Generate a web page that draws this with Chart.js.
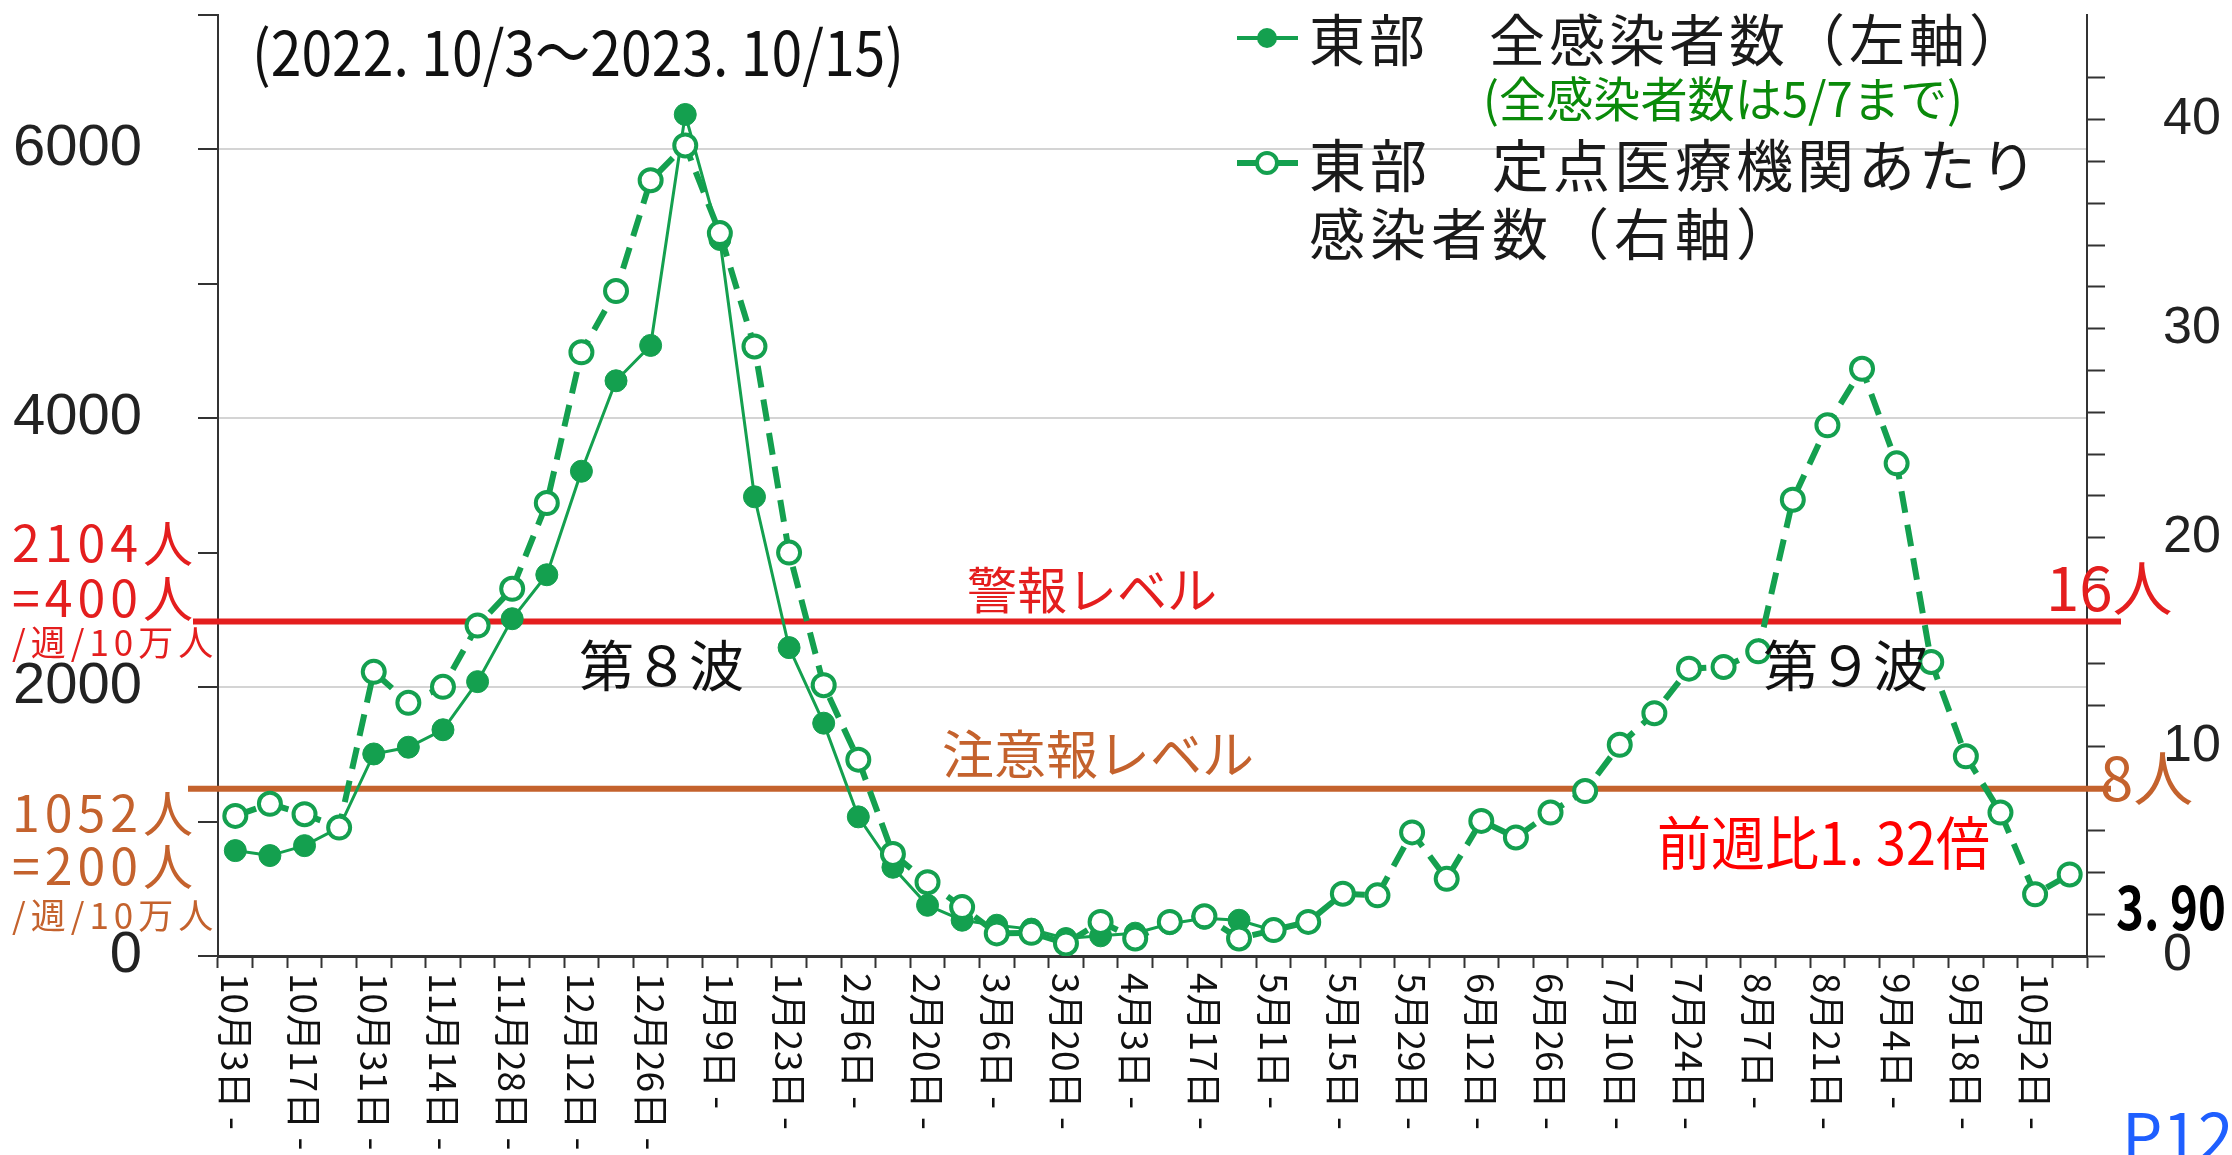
<!DOCTYPE html>
<html lang="ja">
<head>
<meta charset="utf-8">
<title>東部 感染者数の推移</title>
<script src="https://cdn.jsdelivr.net/npm/chart.js@4.4.1/dist/chart.umd.min.js"></script>
<style>
  html, body { margin: 0; padding: 0; background: #fff; }
  #wrap { width: 2232px; height: 1155px; }
</style>
</head>
<body>
<div id="wrap"><canvas id="chart" width="2232" height="1155"></canvas></div>
<script>
// weekly categories, 2022/10/3 .. 2023/10/9
const weeks = [
  "10月3日", "10月10日", "10月17日", "10月24日", "10月31日", "11月7日", "11月14日", "11月21日",
  "11月28日", "12月5日", "12月12日", "12月19日", "12月26日", "1月2日", "1月9日", "1月16日",
  "1月23日", "1月30日", "2月6日", "2月13日", "2月20日", "2月27日", "3月6日", "3月13日",
  "3月20日", "3月27日", "4月3日", "4月10日", "4月17日", "4月24日", "5月1日", "5月8日",
  "5月15日", "5月22日", "5月29日", "6月5日", "6月12日", "6月19日", "6月26日", "7月3日",
  "7月10日", "7月17日", "7月24日", "7月31日", "8月7日", "8月14日", "8月21日", "8月28日",
  "9月4日", "9月11日", "9月18日", "9月25日", "10月2日", "10月9日"
];

// 東部 全感染者数 (left axis) - reported until 5/7
const totalCases = [
  784, 747, 821, 955, 1503, 1553, 1683, 2041, 2509, 2836, 3606, 4279, 4542, 6260, 5330, 3416,
  2294, 1732, 1035, 660, 377, 266, 229, 200, 130, 150, 170, 240, 280, 266, 190,
  null, null, null, null, null, null, null, null, null, null, null, null, null, null, null,
  null, null, null, null, null, null, null, null
];

// 東部 定点医療機関あたり感染者数 (right axis)
const perSiteCases = [
  6.70, 7.28, 6.78, 6.14, 13.59, 12.11, 12.87, 15.80, 17.56, 21.66, 28.87, 31.80, 37.10, 38.76, 34.57, 29.15,
  19.29, 12.95, 9.39, 4.88, 3.53, 2.34, 1.08, 1.11, 0.60, 1.63, 0.84, 1.63, 1.90, 0.84, 1.24, 1.63,
  2.98, 2.90, 5.91, 3.69, 6.46, 5.67, 6.86, 7.89, 10.10, 11.61, 13.74, 13.82, 14.57, 21.82, 25.38, 28.08,
  23.56, 14.06, 9.55, 6.86, 2.95, 3.90
];

const seriesNames = ["東部　全感染者数（左軸）", "東部　定点医療機関あたり感染者数（右軸）"];
const leftTicks = [0, 2000, 4000, 6000];
const rightTicks = [0, 10, 20, 30, 40];
const levelValues = [16, 8];   // 警報レベル, 注意報レベル (right axis)

const GREEN = "#14a04f";
const RED = "#e41e1e";
const ORANGE = "#c4622d";
const JP = '"Noto Sans CJK JP", "Noto Sans", sans-serif';
const NUM = '"Liberation Sans", Arial, sans-serif';

function txt(ctx, s, x, y, font, color, o = {}) {
  ctx.save();
  ctx.font = font;
  ctx.fillStyle = color;
  ctx.textAlign = o.align || "left";
  ctx.textBaseline = o.baseline || "middle";
  if (o.spacing) ctx.letterSpacing = o.spacing + "px";
  if (o.maxWidth) ctx.fillText(s, x, y, o.maxWidth);
  else ctx.fillText(s, x, y);
  ctx.restore();
}

const overlay = {
  id: "overlay",
  beforeDatasetsDraw(chart) {
    const ctx = chart.ctx;
    const y2 = chart.scales.y2;
    const ends = [[193, 2121, RED], [188, 2111, ORANGE]];
    levelValues.forEach((v, i) => {
      const y = y2.getPixelForValue(v);
      ctx.save();
      ctx.strokeStyle = ends[i][2];
      ctx.lineWidth = 6;
      ctx.beginPath();
      ctx.moveTo(ends[i][0], y);
      ctx.lineTo(ends[i][1], y);
      ctx.stroke();
      ctx.restore();
    });
  },
  afterDraw(chart) {
    const ctx = chart.ctx;
    const xs = chart.scales.x;

    // rotated week labels, every second week
    weeks.forEach((w, i) => {
      if (i % 2) return;
      const x = xs.getPixelForValue(i);
      ctx.save();
      ctx.translate(x, 973);
      ctx.rotate(Math.PI / 2);
      ctx.font = "37px " + JP;
      ctx.fillStyle = "#111";
      ctx.textAlign = "left";
      ctx.textBaseline = "middle";
      ctx.fillText(w + " -", 0, 0);
      ctx.restore();
    });

    // legend
    const ds = chart.data.datasets;
    ctx.save();
    ctx.strokeStyle = ds[1].borderColor;
    ctx.lineWidth = 4;
    ctx.beginPath(); ctx.moveTo(1237, 38); ctx.lineTo(1298, 38); ctx.stroke();
    ctx.fillStyle = ds[1].pointBackgroundColor;
    ctx.beginPath(); ctx.arc(1267, 38, 10, 0, Math.PI * 2); ctx.fill();
    ctx.strokeStyle = ds[0].borderColor;
    ctx.lineWidth = 6;
    ctx.beginPath(); ctx.moveTo(1237, 163); ctx.lineTo(1298, 163); ctx.stroke();
    ctx.fillStyle = "#fff";
    ctx.lineWidth = 4;
    ctx.beginPath(); ctx.arc(1267, 163, 10, 0, Math.PI * 2); ctx.fill(); ctx.stroke();
    ctx.restore();
    txt(ctx, "東部　全感染者数（左軸）", 1309, 40, "56px " + JP, "#1a1a1a", { spacing: 4 });
    txt(ctx, "(全感染者数は5/7まで)", 1483, 99, "48px " + JP, "#0a8a0a", { maxWidth: 480 });
    txt(ctx, "東部　定点医療機関あたり", 1309, 165, "57px " + JP, "#1a1a1a", { spacing: 4 });
    txt(ctx, "感染者数（右軸）", 1309, 234, "56px " + JP, "#1a1a1a", { spacing: 5 });

    // title
    txt(ctx, "(2022. 10/3～2023. 10/15)", 252, 52, "62px " + JP, "#111", { maxWidth: 652 });

    // wave labels
    txt(ctx, "第８波", 579, 665, "55px " + JP, "#111");
    txt(ctx, "第９波", 1763, 665, "55px " + JP, "#111");

    // level labels
    txt(ctx, "警報レベル", 967, 590, "50px " + JP, RED);
    txt(ctx, "注意報レベル", 942, 754, "52px " + JP, ORANGE);
    txt(ctx, "16人", 2046, 588, "60px " + JP, RED);
    txt(ctx, "8人", 2100, 778, "60px " + JP, ORANGE);

    // left side conversions
    txt(ctx, "2104人", 12, 543, "50px " + JP, RED, { spacing: 5 });
    txt(ctx, "=400人", 12, 598, "50px " + JP, RED, { spacing: 5 });
    txt(ctx, "/週/10万人", 12, 643, "35px " + JP, RED, { spacing: 5 });
    txt(ctx, "1052人", 12, 813, "50px " + JP, ORANGE, { spacing: 5 });
    txt(ctx, "=200人", 12, 866, "50px " + JP, ORANGE, { spacing: 5 });
    txt(ctx, "/週/10万人", 12, 916, "35px " + JP, ORANGE, { spacing: 5 });

    // latest values
    txt(ctx, "前週比1. 32倍", 1657, 843, "58px " + JP, "#ff0000", { maxWidth: 333 });
    txt(ctx, "3. 90", 2116, 907, "bold 60px " + JP, "#000", { maxWidth: 110 });
    txt(ctx, "P12", 2122, 1160, "64px " + JP, "#1f5fff", { baseline: "alphabetic" });
  }
};

new Chart(document.getElementById("chart"), {
  type: "line",
  data: {
    labels: weeks,
    datasets: [
      {
        label: seriesNames[1],
        data: perSiteCases,
        yAxisID: "y2",
        order: 0,
        borderColor: GREEN,
        borderWidth: 6,
        borderDash: [22, 12],
        pointRadius: 11,
        pointBorderWidth: 4,
        pointBackgroundColor: "#fff",
        pointBorderColor: GREEN,
        tension: 0
      },
      {
        label: seriesNames[0],
        data: totalCases,
        yAxisID: "y",
        order: 1,
        borderColor: GREEN,
        borderWidth: 3,
        pointRadius: 11,
        pointBorderWidth: 1,
        pointBackgroundColor: GREEN,
        pointBorderColor: GREEN,
        tension: 0
      }
    ]
  },
  options: {
    responsive: false,
    animation: false,
    devicePixelRatio: 1,
    layout: { padding: { top: 9, left: 0, right: 0, bottom: 0 } },
    plugins: { legend: { display: false }, tooltip: { enabled: false } },
    scales: {
      x: {
        offset: true,
        grid: { offset: true, drawOnChartArea: false, drawTicks: true, tickLength: 12, tickColor: "#333", tickWidth: 2 },
        border: { color: "#333", width: 3 },
        ticks: { display: false },
        afterFit(s) { s.height = 199; s.paddingLeft = 0; s.paddingRight = 0; }
      },
      y: {
        position: "left",
        min: 0,
        max: 7000,
        ticks: {
          stepSize: 1000,
          autoSkip: false,
          padding: 56,
          color: "#222",
          font: { family: NUM, size: 58 },
          callback: v => leftTicks.includes(v) ? String(v) : ""
        },
        grid: {
          color: c => (c.tick && c.tick.value > 0 && c.tick.value % 2000 === 0) ? "#d4d4d4" : "rgba(0,0,0,0)",
          lineWidth: 2,
          tickColor: "#333",
          tickLength: 20,
          tickWidth: 2
        },
        border: { color: "#333", width: 2 },
        afterFit(s) { s.width = 218; s.paddingTop = 0; s.paddingBottom = 0; }
      },
      y2: {
        position: "right",
        min: 0,
        max: 45,
        afterBuildTicks(s) { s.ticks = s.ticks.filter(t => t.value % 2 === 0); },
        ticks: {
          stepSize: 2,
          autoSkip: false,
          padding: 58,
          color: "#222",
          font: { family: NUM, size: 52 },
          callback: v => rightTicks.includes(v) ? String(v) : ""
        },
        grid: { drawOnChartArea: false, tickColor: "#333", tickLength: 18, tickWidth: 2 },
        border: { color: "#333", width: 2 },
        afterFit(s) { s.width = 145; s.paddingTop = 0; s.paddingBottom = 0; }
      }
    }
  },
  plugins: [overlay]
});
</script>
</body>
</html>
